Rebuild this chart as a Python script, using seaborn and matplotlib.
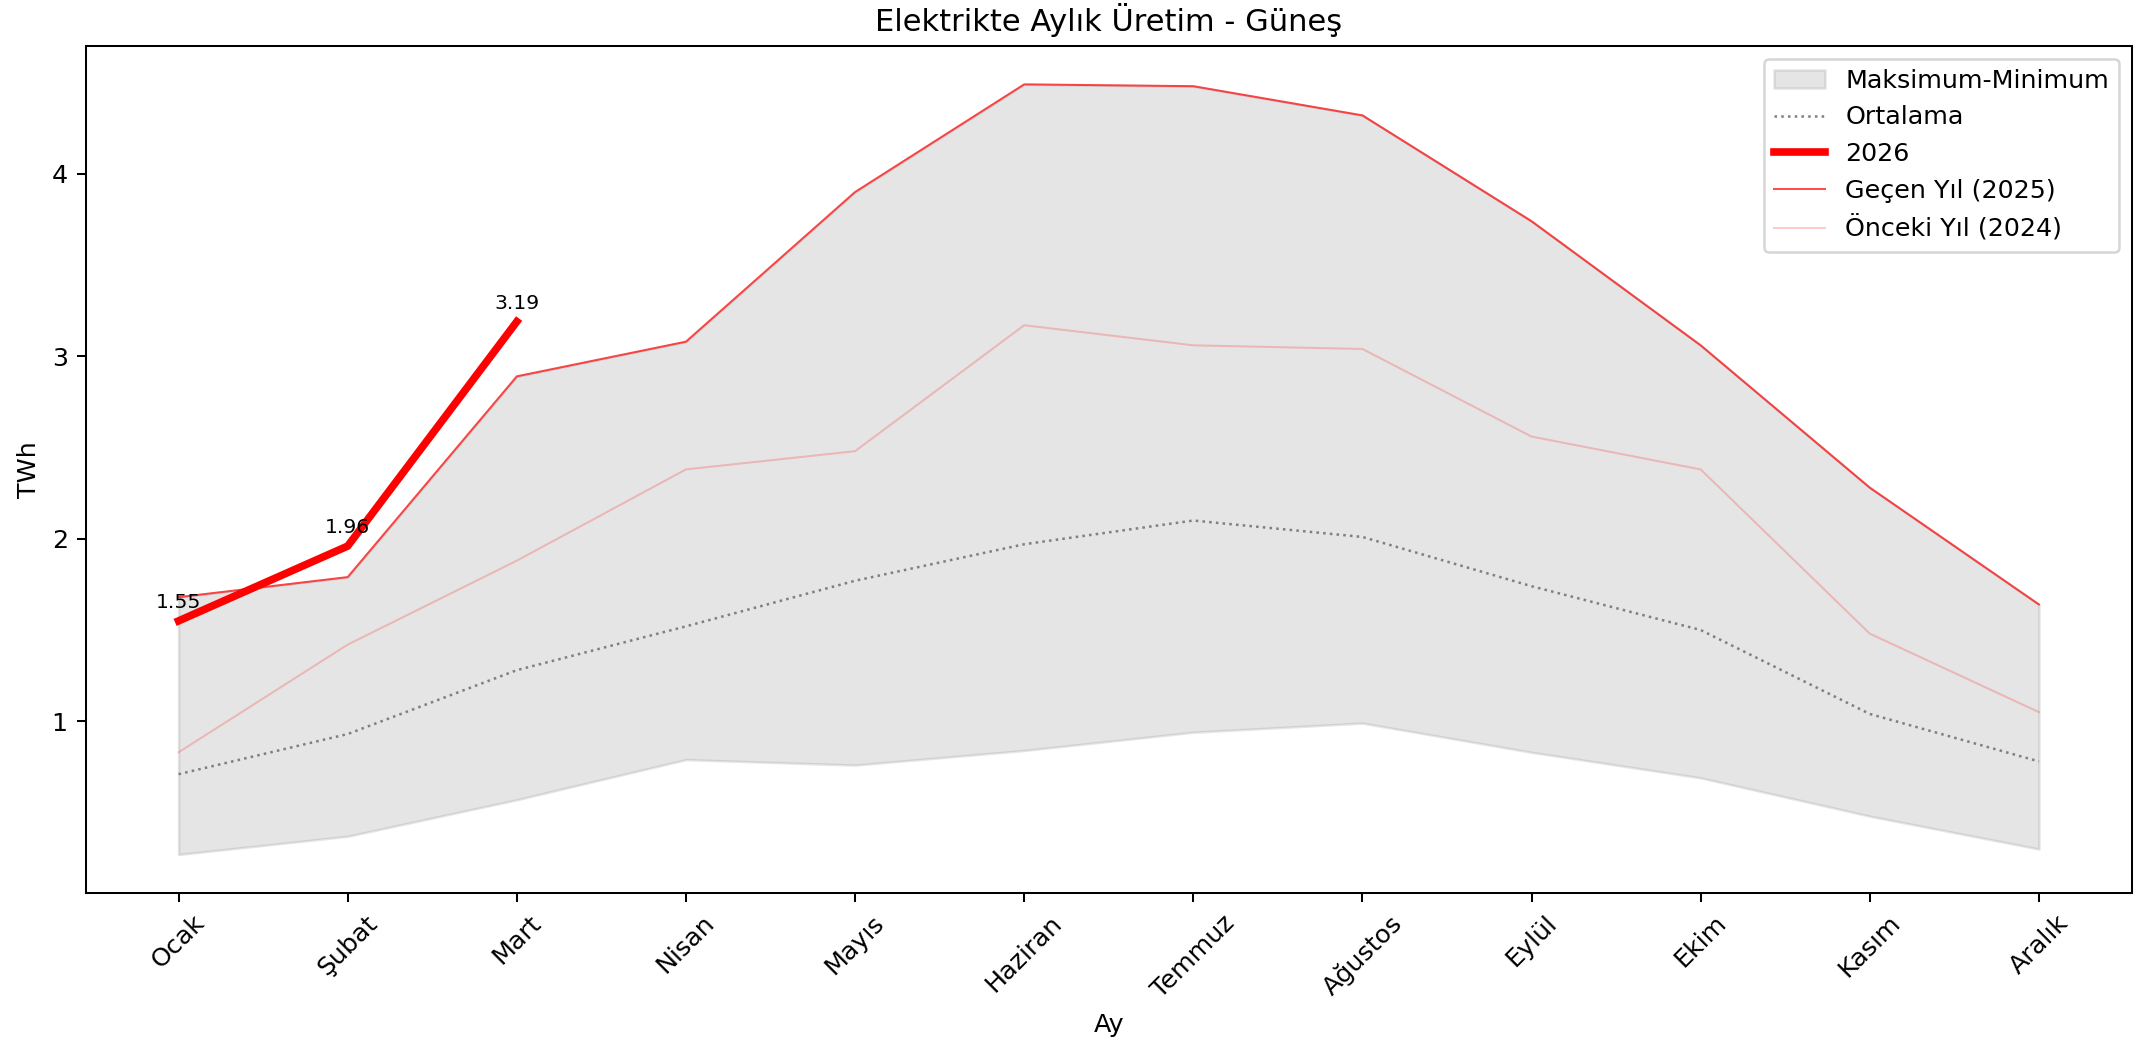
import numpy as np
import pandas as pd
import matplotlib
matplotlib.use("Agg")
import matplotlib.pyplot as plt
import seaborn as sns

# Aylar
aylar = ['Ocak', 'Şubat', 'Mart', 'Nisan', 'Mayıs', 'Haziran',
         'Temmuz', 'Ağustos', 'Eylül', 'Ekim', 'Kasım', 'Aralık']

# Üretim değerleri (TWh)
maksimum = [1.68, 1.79, 2.89, 3.08, 3.90, 4.49, 4.48, 4.32, 3.74, 3.06, 2.28, 1.64]
minimum = [0.27, 0.37, 0.57, 0.79, 0.76, 0.84, 0.94, 0.99, 0.83, 0.69, 0.48, 0.30]
ortalama = [0.71, 0.93, 1.28, 1.52, 1.77, 1.97, 2.10, 2.01, 1.74, 1.50, 1.04, 0.78]
yil_2026 = [1.55, 1.96, 3.19]
yil_2025 = [1.68, 1.79, 2.89, 3.08, 3.90, 4.49, 4.48, 4.32, 3.74, 3.06, 2.28, 1.64]
yil_2024 = [0.83, 1.42, 1.88, 2.38, 2.48, 3.17, 3.06, 3.04, 2.56, 2.38, 1.48, 1.05]

x = np.arange(len(aylar))

DPI = 183
fig, ax = plt.subplots(figsize=(2139 / DPI, 1042 / DPI), dpi=DPI)
fig.subplots_adjust(left=0.040, right=0.9967, top=0.956, bottom=0.143)

# Maksimum-Minimum aralığı
ax.fill_between(x, minimum, maksimum, color='gray', alpha=0.2, label='Maksimum-Minimum')

sns.lineplot(x=x, y=ortalama, ax=ax, color='gray', linestyle=':', linewidth=1, label='Ortalama')
sns.lineplot(x=x[:len(yil_2026)], y=yil_2026, ax=ax, color='red', linewidth=3, label='2026')
sns.lineplot(x=x, y=yil_2025, ax=ax, color='red', linewidth=0.8, alpha=0.7, label='Geçen Yıl (2025)')
sns.lineplot(x=x, y=yil_2024, ax=ax, color='red', linewidth=0.8, alpha=0.2, label='Önceki Yıl (2024)')

# Değer etiketleri
for i, v in enumerate(yil_2026):
    ax.annotate(f'{v:.2f}', (x[i], v), textcoords='offset points', xytext=(0, 5),
                ha='center', fontsize=8)

ax.set_xticks(x)
ax.set_xticklabels(aylar, rotation=45)
ax.set_title('Elektrikte Aylık Üretim - Güneş')
ax.set_xlabel('Ay')
ax.set_ylabel('TWh')
ax.legend(loc='upper right')

fig.savefig('out.png', dpi=DPI)
